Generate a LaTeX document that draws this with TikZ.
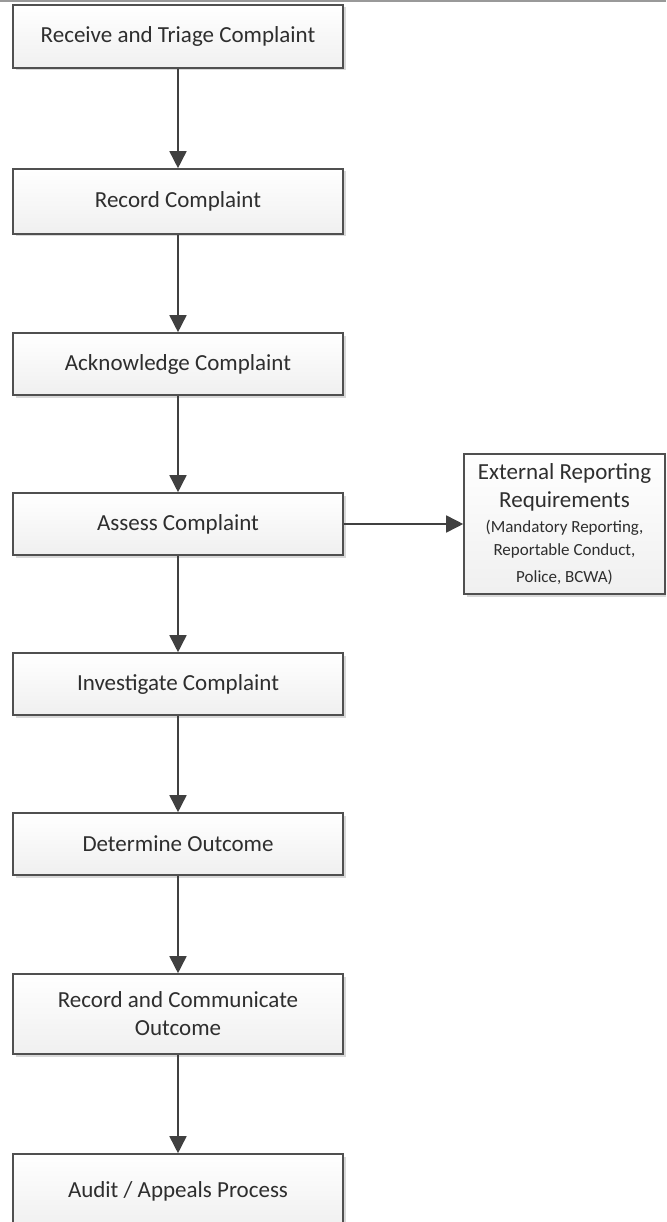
\documentclass[tikz,border=0pt]{standalone}
\usepackage{fontspec}
\setmainfont{Carlito}
\usetikzlibrary{arrows.meta,shadows}
\definecolor{boxline}{HTML}{505050}
\definecolor{txt}{HTML}{2E2E2E}
\definecolor{arrowc}{HTML}{404040}
\tikzset{
  procbox/.style={draw=boxline, line width=1.6pt, top color=white, bottom color=black!6,
    minimum width=330pt, inner sep=0pt, align=center, text=txt,
    font=\fontsize{23}{28}\selectfont,
    drop shadow={shadow xshift=2.5pt, shadow yshift=-2.5pt, opacity=0.15, fill=black}},
  extbox/.style={procbox, minimum width=201pt},
  flow/.style={draw=arrowc, line width=1.6pt, -{Triangle[width=17pt,length=17pt]}}
}
\begin{document}
\begin{tikzpicture}[x=1pt,y=-1pt]
\useasboundingbox (0,0) rectangle (666,1222);
\clip (0,0) rectangle (666,1222);
\fill[white] (0,0) rectangle (666,1222);
\draw[line width=2.5pt, draw=black!40] (0,1.2) -- (666,1.2);
\node[procbox, minimum height=63pt] (n1) at (178,36.5) {Receive and Triage Complaint};
\node[procbox, minimum height=65pt] (n2) at (178,201.5) {Record Complaint};
\node[procbox, minimum height=62pt] (n3) at (178,364) {Acknowledge Complaint};
\node[procbox, minimum height=62pt] (n4) at (178,524) {Assess Complaint};
\node[procbox, minimum height=62pt] (n5) at (178,684) {Investigate Complaint};
\node[procbox, minimum height=62pt] (n6) at (178,844) {Determine Outcome};
\node[procbox, minimum height=80pt] (n7) at (178,1014) {Record and Communicate\\Outcome};
\node[procbox, minimum height=74pt] (n8) at (178,1191) {Audit / Appeals Process};
\node[extbox, minimum height=140pt] (ext) at (564.5,524) {External Reporting\\Requirements\\[-3pt]
  {\fontsize{17}{22}\selectfont (Mandatory Reporting,}\\[-5pt]
  {\fontsize{17}{22}\selectfont Reportable Conduct,}\\[-1pt]
  {\fontsize{17}{22}\selectfont Police, BCWA)}};
\draw[flow] (n1) -- (n2);
\draw[flow] (n2) -- (n3);
\draw[flow] (n3) -- (n4);
\draw[flow] (n4) -- (n5);
\draw[flow] (n5) -- (n6);
\draw[flow] (n6) -- (n7);
\draw[flow] (n7) -- (n8);
\draw[flow] (n4) -- (ext);
\end{tikzpicture}
\end{document}
